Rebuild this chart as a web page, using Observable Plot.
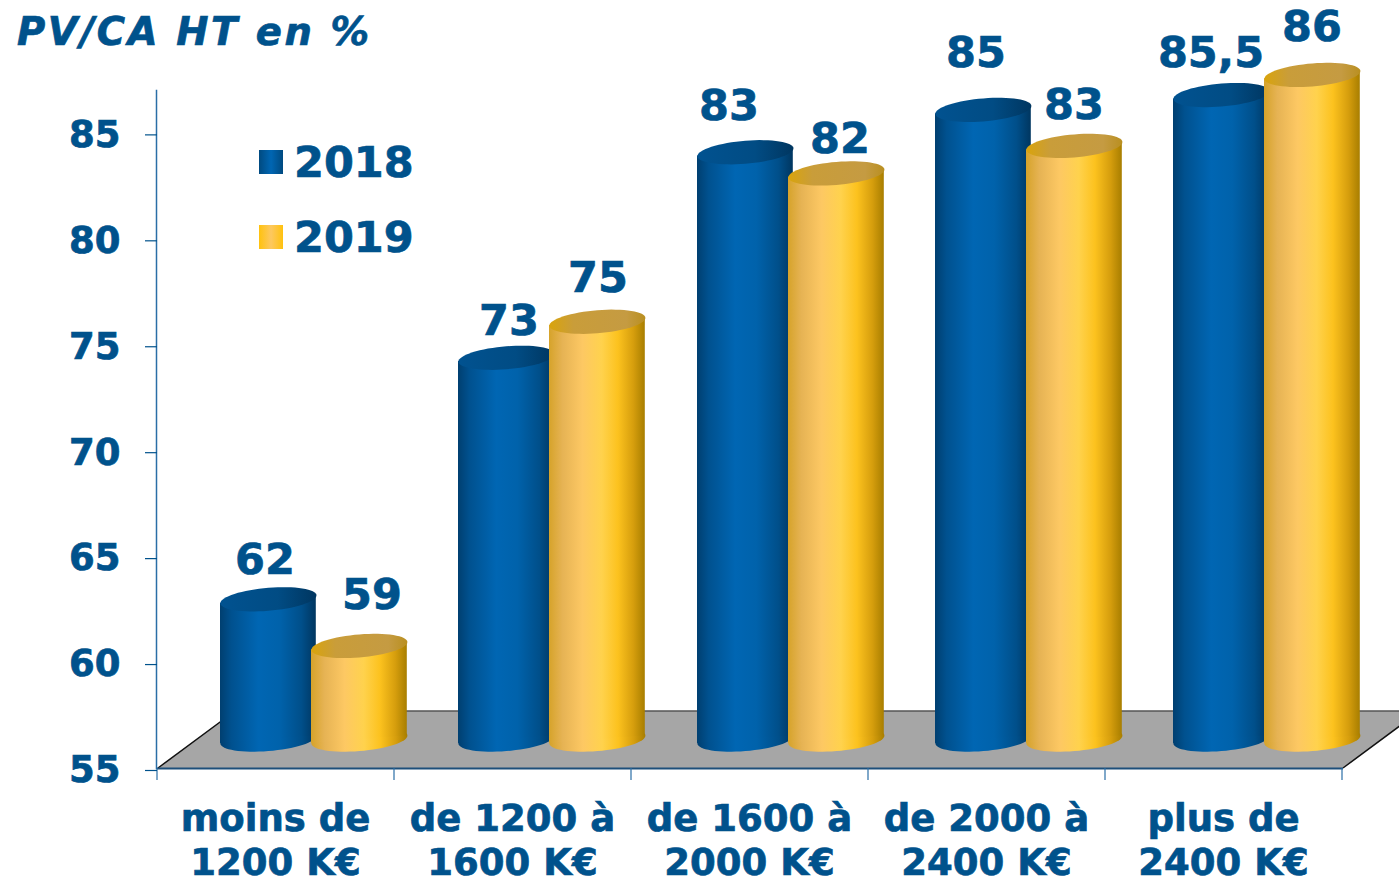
<!DOCTYPE html>
<html lang="fr">
<head>
<meta charset="utf-8">
<script src="https://cdn.jsdelivr.net/npm/d3@7"></script>
<script src="https://cdn.jsdelivr.net/npm/@observablehq/plot@0.6"></script>
<style>
html,body{margin:0;padding:0;background:#fff;overflow:hidden}
#wrap{position:relative;width:1399px;height:879px;font-family:"DejaVu Sans",sans-serif;color:#00528c;font-weight:bold;-webkit-text-stroke:.7px #00528c}
#title{position:absolute;left:17px;top:9px;font-size:38.5px;font-style:italic;line-height:46px;letter-spacing:2.6px;margin:0;font-weight:bold}
.lg{position:absolute;left:259px;display:flex;align-items:center;font-size:43px;line-height:50px;height:50px}
.lg i{display:block;width:24px;height:24px;margin-right:11px}
svg{display:block}
svg text{stroke:#00528c;stroke-width:.7px}
</style>
</head>
<body>
<div id="wrap">
<h1 id="title">PV/CA HT en %</h1>
<div class="lg" style="top:137px"><i style="background:linear-gradient(90deg,#004a80,#0066b3 50%,#004a80)"></i>2018</div>
<div class="lg" style="top:212px"><i style="background:linear-gradient(90deg,#ffc20e,#fdc860 50%,#ffc20e)"></i>2019</div>
</div>
<script>
const categories = ["moins de\n1200 K€", "de 1200 à\n1600 K€", "de 1600 à\n2000 K€", "de 2000 à\n2400 K€", "plus de\n2400 K€"];
const years = ["2018", "2019"];
const heights2018 = [61.9, 73.3, 83, 85, 85.7];
const heights2019 = [59.7, 75, 82, 83.3, 86.65];
const labels2018 = ["62", "73", "83", "85", "85,5"];
const labels2019 = ["59", "75", "82", "83", "86"];
const labelLevel2018 = [64.86, 76.14, 86.28, 88.78, 88.78];
const labelLevel2019 = [63.21, 78.16, 84.7, 86.33, 90.02];
const labelShift2018 = [-12, -5, -22, -12, -14];
const labelShift2019 = [95, 84, 89, 86, 87];
const barNudge = [-1, 0, 2, 3, 4];
const yTicks = [55, 60, 65, 70, 75, 80, 85];
const floorLevel = 57.69;
const baseLevel = 55.28;

const INK = "#00528c";
const TILT = -4.6, RX = 48, RY = 11.5;
const t = TILT * Math.PI / 180;
const ellipse = {
  draw(ctx) {
    for (let i = 0; i <= 64; i++) {
      const a = i / 64 * 2 * Math.PI;
      const ex = RX * Math.cos(a), ey = RY * Math.sin(a);
      const px = ex, py = ey + ex * Math.tan(t);
      if (i) ctx.lineTo(px, py); else ctx.moveTo(px, py);
    }
    ctx.closePath();
  }
};
const skewBars = (index, scales, values, dims, context, next) => {
  const g = next(index, scales, values, dims, context);
  d3.select(g).selectAll("rect").attr("transform", function () {
    const cx = +this.getAttribute("x") + this.getAttribute("width") / 2;
    return `translate(${cx},0) skewY(${TILT}) translate(${-cx},0)`;
  });
  return g;
};

const gradientDefs = () => {
  const svg = d3.create("svg:defs");
  const make = (id, stops) => {
    const g = svg.append("linearGradient").attr("id", id);
    stops.forEach(([o, c]) => g.append("stop").attr("offset", o).attr("stop-color", c));
  };
  make("blueBody", [[0, "#003f70"], [.12, "#00518f"], [.4, "#0066b3"], [.62, "#0062ab"], [.85, "#004f8a"], [1, "#003660"]]);
  make("yellowBody", [[0, "#d6a32a"], [.14, "#e6b354"], [.35, "#fdc863"], [.55, "#ffd24d"], [.72, "#fcc21e"], [.88, "#d69e0d"], [1, "#a87e00"]]);
  make("blueCap", [[0, "#015290"], [.6, "#014c84"], [1, "#003660"]]);
  make("yellowCap", [[0, "#d9a40c"], [.25, "#c99d3a"], [.8, "#c59b42"], [1, "#b98f20"]]);
  return svg.node();
};

const floor = (i, {x, y}) => {
  const x0 = x(categories[0]), x1 = x(categories[4]) + x.bandwidth();
  const yf = y(55), yb = y(floorLevel), d = (yf - yb) * 1.35;
  const g = d3.create("svg:g");
  g.append("path").attr("d", `M${x0},${yf}L${x1},${yf}L${x1 + d},${yb}L${x0 + d},${yb}Z`).attr("fill", "#a6a6a6");
  g.append("path").attr("d", `M${x0 + d},${yb}L${x1 + d},${yb}`).attr("stroke", "#555").attr("stroke-width", 1.5);
  g.append("path").attr("d", `M${x0},${yf}L${x0 + d},${yb}M${x1},${yf}L${x1 + d},${yb}`).attr("stroke", "#111").attr("stroke-width", 1.5);
  return g.node();
};
const edgeTicks = (i, {x, y}) => {
  const g = d3.create("svg:g").attr("stroke", "#2a6ea6").attr("stroke-width", 1.2);
  const w = x.bandwidth(), edges = categories.map(c => x(c)).concat(x(categories[4]) + w);
  edges.forEach(e => g.append("line").attr("x1", e - 1).attr("x2", e - 1).attr("y1", y(55)).attr("y2", y(55) + 12));
  return g.node();
};

const series = (vals, body, cap, insetLeft, insetRight, dx) => categories.flatMap((c, i) => {
  const row = [{c, v: vals[i]}], n = barNudge[i];
  return [
    Plot.dot(row, {x: "c", y: () => baseLevel, dx: dx + n, dy: -23, symbol: ellipse, fill: `url(#${body})`, stroke: "none"}),
    Plot.barY(row, {x: "c", y1: () => baseLevel, y2: "v", dy: -23, insetLeft: insetLeft + n, insetRight: insetRight - n, fill: `url(#${body})`, render: skewBars}),
    Plot.dot(row, {x: "c", y: "v", dx: dx + n, dy: -23, symbol: ellipse, fill: `url(#${cap})`, stroke: "none"})
  ];
});
const valueLabels = (text, level, shift) => text.map((s, i) =>
  Plot.text([s], {x: () => categories[i], y: () => level[i], text: d => d, dx: shift[i], dy: 0.5, fill: INK, fontSize: 43, fontWeight: "bold", textAnchor: "middle"}));

const chart = Plot.plot({
  width: 1399, height: 879,
  marginLeft: 157, marginRight: 56, marginTop: 90, marginBottom: 111,
  style: {fontFamily: "DejaVu Sans, sans-serif", background: "transparent", overflow: "visible"},
  x: {type: "band", domain: categories, padding: 0, label: null},
  y: {domain: [55, 87], label: null},
  marks: [
    gradientDefs,
    floor,
    Plot.frame({anchor: "left", stroke: "#2a6ea6", strokeWidth: 1.5, dx: -1}),
    Plot.ruleY([55], {stroke: "#1d4f7a", strokeWidth: 2}),
    edgeTicks,
    Plot.axisY({ticks: yTicks, tickSize: 12, tickPadding: 25, label: null, color: INK, fontSize: 37, fontWeight: "bold", tickFormat: d => String(d), strokeWidth: 1.2, dy: 2}),
    Plot.axisX({tickSize: 0, tickPadding: 31, label: null, color: INK, fontSize: 37, fontWeight: "bold", lineHeight: 1.2, lineAnchor: "top", dx: -1.5}),
    ...series(heights2018, "blueBody", "blueCap", 63, 78.2, -7.6),
    ...series(heights2019, "yellowBody", "yellowCap", 154, -12.8, 83.4),
    ...valueLabels(labels2018, labelLevel2018, labelShift2018),
    ...valueLabels(labels2019, labelLevel2019, labelShift2019)
  ]
});
document.getElementById("wrap").prepend(chart);
</script>
</body>
</html>
